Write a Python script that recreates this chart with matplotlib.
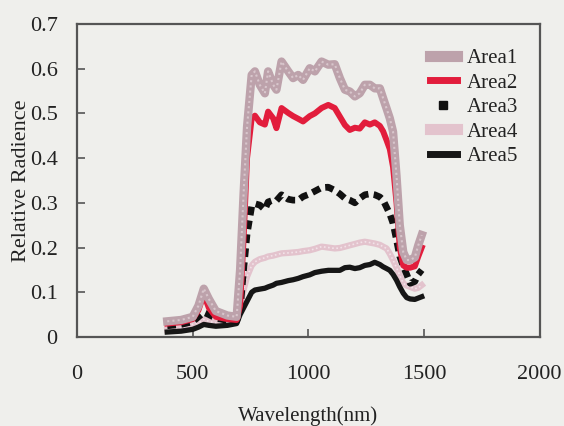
import matplotlib.pyplot as plt
from matplotlib.lines import Line2D

plt.rcParams['font.family'] = ['Liberation Serif', 'DejaVu Serif']

wavelength = [390, 450, 500, 525, 548, 570, 600, 650, 690,
              705, 720, 735,
              755, 769, 790, 812, 826, 848, 862, 884,
              913, 934, 956, 977, 1006, 1028, 1057, 1086,
              1114, 1136, 1158, 1179, 1201, 1222, 1244, 1266,
              1287, 1309, 1323, 1338, 1352, 1366, 1381, 1395,
              1410, 1425, 1440, 1460, 1475, 1490]

area1 = [0.035, 0.038, 0.045, 0.07, 0.108, 0.085, 0.058, 0.048, 0.045,
         0.15, 0.32, 0.47,
         0.586, 0.594, 0.564, 0.545, 0.594, 0.564, 0.553, 0.616,
         0.594, 0.579, 0.586, 0.575, 0.601, 0.594, 0.616, 0.609,
         0.61, 0.579, 0.553, 0.549, 0.538, 0.545, 0.564, 0.564,
         0.556, 0.556, 0.534, 0.511, 0.489, 0.459, 0.36, 0.25,
         0.19, 0.172, 0.172, 0.178, 0.205, 0.228]

area2 = [0.03, 0.033, 0.04, 0.06, 0.095, 0.065, 0.045, 0.04, 0.038,
         0.07, 0.22, 0.40,
         0.489, 0.495, 0.48, 0.475, 0.504, 0.489, 0.467, 0.512,
         0.501, 0.494, 0.488, 0.482, 0.494, 0.5, 0.512, 0.519,
         0.512, 0.493, 0.474, 0.463, 0.468, 0.466, 0.48, 0.475,
         0.48, 0.472, 0.46, 0.44, 0.42, 0.38, 0.3, 0.2,
         0.16, 0.155, 0.155, 0.158, 0.18, 0.2]

area3 = [0.025, 0.028, 0.034, 0.045, 0.055, 0.05, 0.042, 0.037, 0.035,
         0.06, 0.15, 0.23,
         0.292, 0.298, 0.295, 0.285, 0.302, 0.306, 0.305, 0.318,
         0.308, 0.306, 0.306, 0.314, 0.32, 0.326, 0.334, 0.335,
         0.328, 0.32, 0.31, 0.306, 0.3, 0.31, 0.318, 0.32,
         0.318, 0.313, 0.306, 0.29, 0.275, 0.254, 0.217, 0.18,
         0.158, 0.14, 0.12, 0.124, 0.14, 0.15]

area4 = [0.016, 0.02, 0.028, 0.032, 0.039, 0.035, 0.031, 0.033, 0.04,
         0.07, 0.105, 0.135,
         0.16, 0.168, 0.174, 0.177, 0.18, 0.182, 0.184, 0.187,
         0.188, 0.189, 0.19, 0.192, 0.194, 0.197, 0.202, 0.2,
         0.198, 0.199, 0.202, 0.205, 0.208, 0.211, 0.213, 0.211,
         0.209, 0.206, 0.202, 0.198, 0.186, 0.172, 0.155, 0.138,
         0.12, 0.115, 0.112, 0.108, 0.11, 0.116]

area5 = [0.011, 0.013, 0.017, 0.022, 0.028, 0.026, 0.024, 0.026, 0.03,
         0.05, 0.065, 0.08,
         0.1, 0.105, 0.107, 0.109, 0.112, 0.116, 0.12, 0.122,
         0.126, 0.128, 0.131, 0.135, 0.139, 0.144, 0.147, 0.149,
         0.149, 0.149, 0.155, 0.156, 0.153, 0.155, 0.16, 0.162,
         0.167, 0.162, 0.157, 0.153, 0.149, 0.14, 0.127, 0.112,
         0.098, 0.088, 0.085, 0.084, 0.087, 0.09]

labels = ['Area1', 'Area2', 'Area3', 'Area4', 'Area5']

bg = '#efefec'
fig = plt.figure(figsize=(5.64, 4.26), dpi=100, facecolor=bg)
ax = fig.add_axes([0.1365, 0.209, 0.8205, 0.7347], facecolor=bg)

# thick textured lines like the printed figure
ax.plot(wavelength, area4, color='#e3c3cd', lw=4.5, solid_joinstyle='round')
ax.plot(wavelength, area4, color='#f2e2e8', lw=1.2, ls=(0, (1, 1.5)))
ax.plot(wavelength, area5, color='#161616', lw=3.8, solid_joinstyle='round')
ax.plot(wavelength, area3, color='#111111', lw=4.8, ls=(0, (1.3, 0.8)))
ax.plot(wavelength, area2, color='#e21d3c', lw=4.3, solid_joinstyle='round')
ax.plot(wavelength, area1, color='#bda2ab', lw=6, solid_joinstyle='round')
ax.plot(wavelength, area1, color='#d8c6cc', lw=1.5, ls=(0, (1, 1.5)))

ax.set_xlim(0, 2000)
ax.set_ylim(0, 0.7)
ax.set_xticks([0, 500, 1000, 1500, 2000])
ax.set_yticks([0, 0.1, 0.2, 0.3, 0.4, 0.5, 0.6, 0.7])
ax.set_yticklabels(['0', '0.1', '0.2', '0.3', '0.4', '0.5', '0.6', '0.7'])
ax.tick_params(direction='in', length=6, width=1.2, color='#555555',
               labelsize=16, labelcolor='#222222')
ax.tick_params(axis='x', pad=20)
ax.tick_params(axis='y', pad=14)
for s in ax.spines.values():
    s.set_color('#555555')
    s.set_linewidth(1.6)

ax.set_xlabel('Wavelength(nm)', fontsize=15, color='#222222', labelpad=16)
ax.set_ylabel('Relative Radience', fontsize=16, color='#222222')
ax.yaxis.set_label_coords(-0.1, 0.5)

handles = [
    Line2D([], [], color='#bda2ab', lw=8),
    Line2D([], [], color='#e21d3c', lw=5),
    Line2D([], [], color='#111111', ls='none', marker='s', markersize=6),
    Line2D([], [], color='#e3c3cd', lw=8),
    Line2D([], [], color='#161616', lw=5),
]
ax.legend(handles, labels, loc='upper left', bbox_to_anchor=(0.762, 0.922),
          frameon=False, fontsize=15, handlelength=1.3, handletextpad=0.5,
          labelspacing=0.24, borderpad=0, borderaxespad=0,
          labelcolor='#222222')

fig.savefig('out.png', dpi=100, facecolor=bg)
